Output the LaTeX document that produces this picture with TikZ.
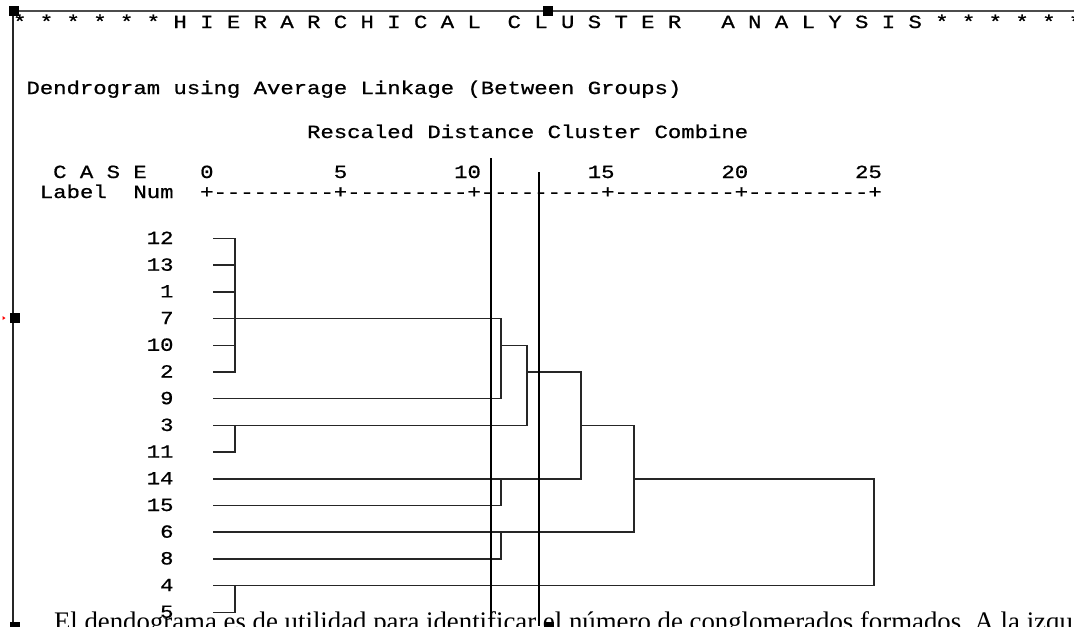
\documentclass[tikz,border=0pt]{standalone}
\usepackage{fontspec}
\setmainfont{Liberation Serif}
\setmonofont[FakeStretch=1.2,FakeBold=0.8]{Liberation Mono}
\newcommand\spssfont{\ttfamily\fontsize{13.92pt}{14pt}\selectfont}
\tikzset{
  spss/.style={font=\spssfont, inner sep=0pt, outer sep=0pt, anchor=base west, text=black},
  leaflab/.style={spss, anchor=base east},
  dend/.style={draw=black!85, line width=1.15pt, line join=miter},
  cutline/.style={draw=black, line width=1.5pt},
  handle/.style={fill=black, draw=none, minimum size=7.5pt, inner sep=0pt, outer sep=0pt, rectangle},
  framel/.style={draw=black!70, line width=1.1pt},
  bodytext/.style={font=\rmfamily\fontsize{20.1pt}{24pt}\selectfont, inner sep=0pt, outer sep=0pt, anchor=base west, text=black}
}
\begin{document}
\frenchspacing
\begin{tikzpicture}[x=0.75pt,y=-0.75pt]
\useasboundingbox (0,0) rectangle (1074,626);
\clip (0,0) rectangle (1074,626);
\fill[white] (0,0) rectangle (1074,626);

% SPSS text
\node[spss] (hdr) at (13.1,28) {* * * * * * H I E R A R C H I C A L~~C L U S T E R~~~A N A L Y S I S * * * * * *};
\node[spss] (dtitle) at (26.5,94) {Dendrogram using Average Linkage (Between Groups)};
\node[spss] (rtitle) at (307.1,138) {Rescaled Distance Cluster Combine};
\node[spss] (caserow) at (53.2,178) {C A S E~~~~0~~~~~~~~~5~~~~~~~~10~~~~~~~~15~~~~~~~~20~~~~~~~~25};
\node[spss] (labrow) at (39.9,198) {Label~~Num};
\node[spss] (axis) at (200.2,198) {+---------+---------+---------+---------+---------+};

% leaves
\foreach \lab [count=\i from 0] in {12,13,1,7,10,2,9,3,11,14,15,6,8,4,5} {
  \pgfmathsetmacro\yy{238.5+26.7*\i}
  \node[leaflab] (n\lab) at (173.5,\yy+5.5) {\lab};
  \coordinate (s\lab) at (213,\yy);
}
\coordinate (x1) at (235,0);
\coordinate (x2) at (501,0);
\coordinate (x3) at (527,0);
\coordinate (x4) at (581,0);
\coordinate (x5) at (634,0);
\coordinate (x6) at (874,0);

% cluster {12,13,1,7,10,2}
\draw[dend] (s12) -- (s12 -| x1) -- (s2 -| x1) -- (s2);
\draw[dend] (s13) -- (s13 -| x1);
\draw[dend] (s1) -- (s1 -| x1);
\draw[dend] (s10) -- (s10 -| x1);
% join with 9
\draw[dend] (s7) -- (s7 -| x2) -- (s9 -| x2) -- (s9);
% {3,11}
\draw[dend] (s11) -- (s11 -| x1) -- (s3 -| x1);
\draw[dend] (s10 -| x2) -- (s10 -| x3) -- (s3 -| x3) -- (s3);
% {14,15}
\draw[dend] (s15) -- (s15 -| x2) -- (s14 -| x2);
\draw[dend] (s2 -| x3) -- (s2 -| x4) -- (s14 -| x4) -- (s14);
% {6,8}
\draw[dend] (s8) -- (s8 -| x2) -- (s6 -| x2);
\draw[dend] (s3 -| x4) -- (s3 -| x5) -- (s6 -| x5) -- (s6);
% {4,5}
\draw[dend] (s5) -- (s5 -| x1) -- (s4 -| x1);
\draw[dend] (s14 -| x5) -- (s14 -| x6) -- (s4 -| x6) -- (s4);

% body text of the document
\node[bodytext] (body) at (54,630) {El dendograma es de utilidad para identificar el número de conglomerados formados. A la izqu};

% cut lines
\coordinate (ca1) at (491,158);
\coordinate (cb1) at (491,626);
\coordinate (ca2) at (539,172);
\coordinate (cb2) at (539,626);
\draw[cutline] (ca1) -- (cb1);
\draw[cutline] (ca2) -- (cb2);

% picture frame and handles
\coordinate (ftl) at (13,11);
\coordinate (ftr) at (1074,11);
\coordinate (fbl) at (13,626);
\draw[framel] (ftl) -- (ftr);
\draw[draw=black!85, line width=1.1pt] (ftl) -- (fbl);
\node[handle] (h1) at (14.3,11) {};
\node[handle] (h2) at (548,11) {};
\node[handle] (h3) at (14.5,318) {};
\node[handle] (h4) at (15,627) {};
\node[handle] (h5) at (548.5,627) {};
\fill[red] (2.5,316) -- (5.5,318) -- (2.5,320) -- cycle;
\end{tikzpicture}
\end{document}
